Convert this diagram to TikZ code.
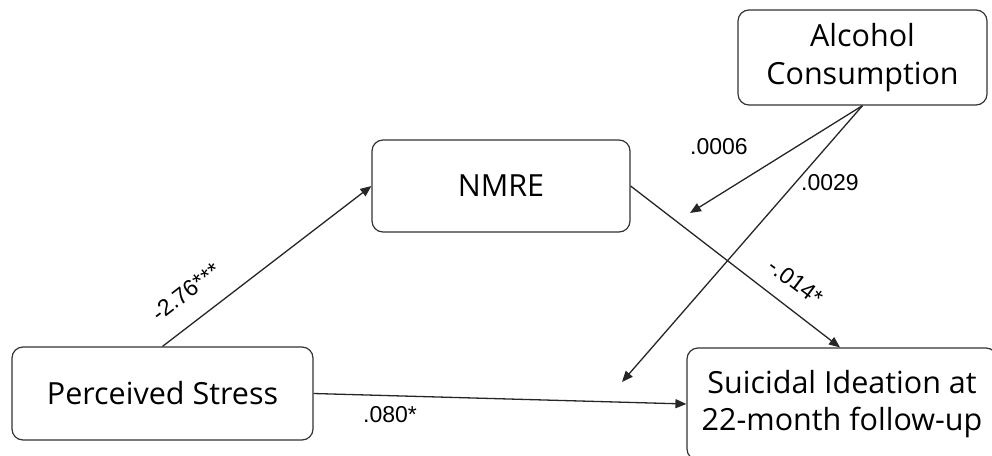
\documentclass[tikz,border=0pt]{standalone}
\usepackage{fontspec}
\setmainfont{Liberation Sans}
\newfontfamily\boxfont{Open Sans}
\usetikzlibrary{arrows.meta}

\tikzset{
  var/.style={draw=black!80, line width=1.2pt, rounded corners=11pt,
    align=center, inner sep=0pt,
    font=\boxfont\fontsize{30.5}{37.5}\selectfont},
  path/.style={draw=black!85, line width=1.3pt,
    -{Triangle[length=11pt,width=9pt]}},
  coef/.style={font=\fontsize{23}{26}\selectfont, inner sep=0pt},
}

\begin{document}
\begin{tikzpicture}[x=1pt, y=-1pt]
  \useasboundingbox (0,0) rectangle (992,455);

  % variables
  \node[var, minimum width=249pt, minimum height=95pt] (alc) at (862.5,57.5)
    {Alcohol\\Consumption};
  \node[var, minimum width=258pt, minimum height=92pt] (nmre) at (501,186) {NMRE};
  \node[var, minimum width=301pt, minimum height=93pt] (ps) at (162.5,393.5)
    {Perceived Stress};
  \node[var, minimum width=310pt, minimum height=112pt] (si) at (842,404)
    {Suicidal Ideation at\\22-month follow-up};

  % free ends of the moderation arrows
  \coordinate (m1) at (690,213);
  \coordinate (m2) at (622,382);

  % paths
  \draw[path] (ps.north) -- (nmre.west);
  \draw[path] (nmre.east) -- ([xshift=-2pt]si.north);
  \draw[path] (ps.east) -- (si.west);
  \draw[path] (alc.south) -- (m1);
  \draw[path] (alc.south) -- (m2);

  % coefficients
  \node[coef, rotate=37.6] (c1) at (186,292) {-2.76***};
  \node[coef, rotate=-37.1] (c2) at (796,282) {-.014*};
  \node[coef] (c3) at (390,415) {.080*};
  \node[coef] (c4) at (719,147) {.0006};
  \node[coef] (c5) at (830,183) {.0029};
\end{tikzpicture}
\end{document}
